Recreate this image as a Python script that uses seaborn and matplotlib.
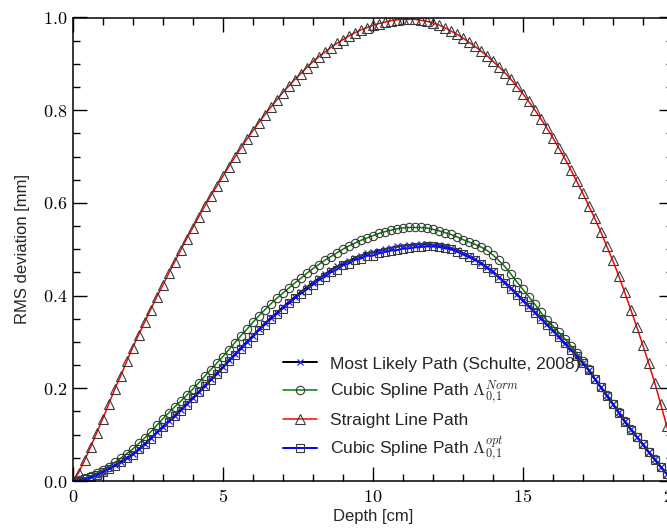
import numpy as np
import pandas as pd
import matplotlib
matplotlib.use('Agg')
import matplotlib.pyplot as plt
from matplotlib.ticker import MultipleLocator, FuncFormatter
import seaborn as sns

# depth grid of the simulation [cm]
depth_cm = np.linspace(0, 20, 101)

# RMS deviation [mm]
rms_mlp = [0.000, 0.001, 0.004, 0.008, 0.014, 0.020, 0.027, 0.034, 0.042, 0.050,
           0.058, 0.069, 0.080, 0.092, 0.105, 0.117, 0.129, 0.141, 0.154, 0.166,
           0.179, 0.192, 0.205, 0.219, 0.232, 0.246, 0.260, 0.273, 0.287, 0.300,
           0.313, 0.327, 0.340, 0.352, 0.363, 0.375, 0.386, 0.397, 0.408, 0.418,
           0.428, 0.437, 0.446, 0.455, 0.463, 0.469, 0.475, 0.481, 0.486, 0.491,
           0.494, 0.497, 0.500, 0.503, 0.506, 0.508, 0.509, 0.510, 0.511, 0.511,
           0.510, 0.509, 0.506, 0.503, 0.498, 0.492, 0.486, 0.479, 0.471, 0.462,
           0.452, 0.441, 0.429, 0.417, 0.404, 0.391, 0.378, 0.365, 0.352, 0.339,
           0.326, 0.312, 0.298, 0.284, 0.270, 0.255, 0.240, 0.221, 0.203, 0.185,
           0.167, 0.148, 0.129, 0.112, 0.096, 0.080, 0.063, 0.047, 0.031, 0.016,
           0.000]

rms_spline_norm = [0.000, 0.002, 0.006, 0.011, 0.017, 0.024, 0.031, 0.040, 0.049, 0.059,
                   0.069, 0.081, 0.093, 0.106, 0.120, 0.134, 0.147, 0.160, 0.172, 0.185,
                   0.198, 0.212, 0.226, 0.240, 0.254, 0.268, 0.283, 0.298, 0.313, 0.327,
                   0.342, 0.356, 0.369, 0.382, 0.394, 0.405, 0.416, 0.427, 0.437, 0.448,
                   0.458, 0.467, 0.476, 0.484, 0.492, 0.500, 0.507, 0.513, 0.519, 0.524,
                   0.529, 0.534, 0.538, 0.541, 0.544, 0.546, 0.547, 0.547, 0.547, 0.546,
                   0.543, 0.540, 0.536, 0.532, 0.527, 0.521, 0.516, 0.511, 0.505, 0.498,
                   0.488, 0.476, 0.463, 0.447, 0.430, 0.414, 0.398, 0.382, 0.364, 0.347,
                   0.335, 0.321, 0.307, 0.292, 0.276, 0.259, 0.241, 0.221, 0.203, 0.185,
                   0.167, 0.148, 0.129, 0.112, 0.096, 0.080, 0.063, 0.047, 0.031, 0.016,
                   0.000]

rms_straight = [0.000, 0.018, 0.045, 0.074, 0.104, 0.134, 0.166, 0.198, 0.227, 0.258,
                0.288, 0.316, 0.343, 0.370, 0.397, 0.422, 0.448, 0.473, 0.498, 0.523,
                0.546, 0.570, 0.593, 0.615, 0.636, 0.657, 0.678, 0.698, 0.718, 0.737,
                0.755, 0.773, 0.790, 0.806, 0.822, 0.838, 0.852, 0.866, 0.879, 0.892,
                0.904, 0.915, 0.925, 0.935, 0.944, 0.952, 0.960, 0.967, 0.973, 0.978,
                0.983, 0.987, 0.990, 0.993, 0.995, 0.996, 0.996, 0.996, 0.994, 0.992,
                0.988, 0.984, 0.978, 0.971, 0.964, 0.956, 0.947, 0.938, 0.928, 0.918,
                0.906, 0.894, 0.881, 0.867, 0.852, 0.836, 0.819, 0.801, 0.782, 0.762,
                0.741, 0.719, 0.696, 0.672, 0.647, 0.621, 0.594, 0.567, 0.538, 0.507,
                0.476, 0.443, 0.407, 0.370, 0.333, 0.294, 0.254, 0.212, 0.166, 0.119,
                0.072]

rms_spline_opt = [0.000, 0.001, 0.004, 0.008, 0.013, 0.019, 0.026, 0.033, 0.041, 0.049,
                  0.057, 0.068, 0.079, 0.091, 0.104, 0.116, 0.128, 0.140, 0.152, 0.165,
                  0.178, 0.191, 0.204, 0.217, 0.230, 0.244, 0.258, 0.271, 0.285, 0.298,
                  0.311, 0.325, 0.337, 0.350, 0.361, 0.372, 0.383, 0.394, 0.404, 0.413,
                  0.423, 0.433, 0.440, 0.450, 0.456, 0.465, 0.469, 0.477, 0.480, 0.486,
                  0.486, 0.491, 0.494, 0.497, 0.498, 0.501, 0.502, 0.504, 0.505, 0.506,
                  0.506, 0.505, 0.502, 0.500, 0.495, 0.489, 0.483, 0.477, 0.469, 0.460,
                  0.450, 0.439, 0.427, 0.415, 0.402, 0.389, 0.376, 0.363, 0.350, 0.337,
                  0.324, 0.310, 0.297, 0.283, 0.269, 0.254, 0.239, 0.220, 0.202, 0.184,
                  0.166, 0.147, 0.128, 0.111, 0.095, 0.079, 0.062, 0.046, 0.030, 0.015,
                  0.000]

labels = ['Most Likely Path (Schulte, 2008)',
          r'Cubic Spline Path $\Lambda_{0{,}1}^{Norm}$',
          'Straight Line Path',
          r'Cubic Spline Path $\Lambda_{0{,}1}^{opt}$']

df = pd.DataFrame({'depth': depth_cm, 'mlp': rms_mlp, 'norm': rms_spline_norm,
                   'straight': rms_straight, 'opt': rms_spline_opt})

sns.set_style('ticks')
plt.rcParams['font.family'] = ['Liberation Sans', 'DejaVu Sans']
plt.rcParams['mathtext.fontset'] = 'cm'

fig = plt.figure(figsize=(6.67, 5.28), dpi=100)
# the right edge of the axes sits just outside the picture, as in the original
ax = fig.add_axes([72.7 / 667, 47 / 528, 600 / 667, 463.5 / 528])

edge = '#3a3a3a'
sns.lineplot(data=df, x='depth', y='mlp', ax=ax, color='black', lw=1.4,
             marker='x', ms=5, mec='#2222ff', mew=0.9, label=labels[0], estimator=None)
sns.lineplot(data=df, x='depth', y='norm', ax=ax, color='#008000', lw=1.1,
             marker='o', ms=6, mfc='none', mec=edge, mew=0.8, label=labels[1], estimator=None)
sns.lineplot(data=df, x='depth', y='straight', ax=ax, color='red', lw=1.1,
             marker='^', ms=6.5, mfc='none', mec=edge, mew=0.8, label=labels[2], estimator=None)
sns.lineplot(data=df, x='depth', y='opt', ax=ax, color='blue', lw=1.4,
             marker='s', ms=5.5, mfc='none', mec=edge, mew=0.8, label=labels[3], estimator=None)

ax.set_xlim(0, 20)
ax.set_ylim(0, 1.0)
ax.xaxis.set_major_locator(MultipleLocator(5))
ax.xaxis.set_minor_locator(MultipleLocator(1))
ax.yaxis.set_major_locator(MultipleLocator(0.2))
ax.yaxis.set_minor_locator(MultipleLocator(0.05))
ax.xaxis.set_major_formatter(FuncFormatter(lambda v, p: r'$%d$' % round(v)))
ax.yaxis.set_major_formatter(FuncFormatter(lambda v, p: r'$%.1f$' % v))

ax.tick_params(which='both', direction='in', top=True, right=True, width=1.0, colors='black')
ax.tick_params(which='major', length=10, labelsize=13)
ax.tick_params(which='minor', length=5)
ax.tick_params(axis='x', pad=6)
ax.tick_params(axis='y', pad=4)
for s in ax.spines.values():
    s.set_linewidth(1.1)
    s.set_color('black')

ax.set_xlabel('Depth [cm]', fontsize=12, labelpad=2)
ax.set_ylabel('RMS deviation [mm]', fontsize=12, labelpad=9)

ax.legend(loc='lower left', bbox_to_anchor=(0.336, 0.02), frameon=False, fontsize=12.5,
          handlelength=1.95, handletextpad=0.75, labelspacing=0.4, borderpad=0)

fig.savefig('out.png', dpi=100)
